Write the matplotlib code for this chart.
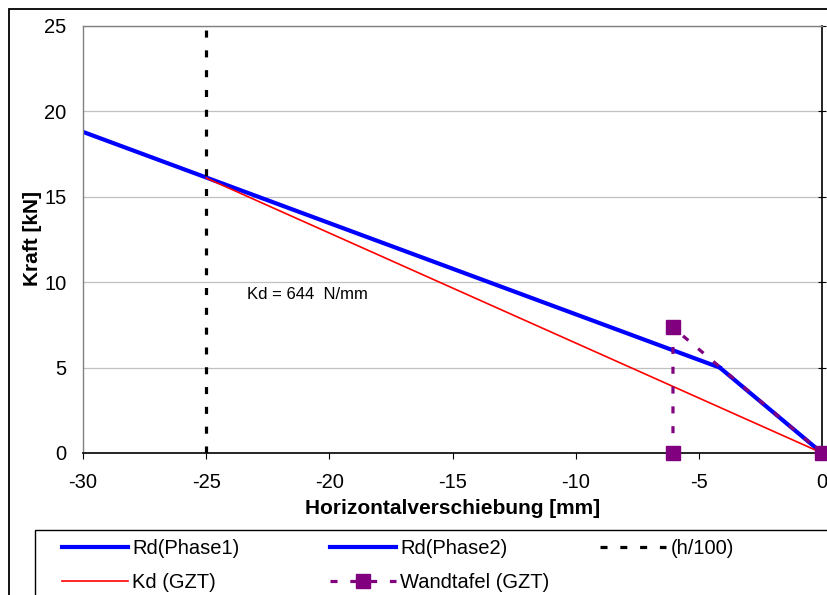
import numpy as np
from matplotlib import pyplot as plt
from matplotlib.patches import Rectangle

# data
phase1_x = [0.0, -4.15]
phase1_y = [0.0, 5.0]
phase2_x = [-4.15, -30.0]
phase2_y = [5.0, 18.8]
kd_x = [0.0, -25.0]
kd_y = [0.0, 16.1]
h100_x = [-25.0, -25.0]
h100_y = [0.0, 25.0]
wand_x = [-6.05, -6.05, 0.0]
wand_y = [0.0, 7.35, 0.0]

x_ticks = [-30, -25, -20, -15, -10, -5, 0]
y_ticks = [0, 5, 10, 15, 20, 25]

plt.rcParams["font.family"] = ["Liberation Sans", "DejaVu Sans"]
plt.rcParams["axes.unicode_minus"] = False

W, H = 827, 595
fig = plt.figure(figsize=(W / 100, H / 100), dpi=100, facecolor="w")
ax = fig.add_axes([83 / W, 1 - 453 / H, 739 / W, 427 / H])

ax.set_xlim(-30, 0)
ax.set_ylim(0, 25)

# horizontal grid
for yv in y_ticks[1:]:
    ax.axhline(yv, color="#c0c0c0", lw=0.9, zorder=0)

l_p1, = ax.plot(phase1_x, phase1_y, color="#0000ff", lw=3.0, zorder=2)
l_p2, = ax.plot(phase2_x, phase2_y, color="#0000ff", lw=3.0, zorder=2)
l_h, = ax.plot(h100_x, h100_y, color="black", lw=2.3, dashes=(2.2, 4.0), zorder=3)
l_kd, = ax.plot(kd_x, kd_y, color="#ff0000", lw=1.2, zorder=3)
l_wt, = ax.plot(wand_x, wand_y, color="#800080", lw=2.3, dashes=(2.2, 4.0),
                marker="s", markersize=10.5, clip_on=False, zorder=4)

ax.text(-23.35, 9.27, "Kd = 644  N/mm", fontsize=12, va="center", ha="left")

ax.set_xticks(x_ticks)
ax.set_xticklabels([str(t) for t in x_ticks])
ax.set_yticks(y_ticks)
ax.set_yticklabels([str(t) for t in y_ticks])
ax.tick_params(axis="x", direction="out", length=4.5, width=0.8, labelsize=14.5, pad=10)
ax.tick_params(axis="y", left=False, right=True, labelleft=True, labelright=False,
               direction="inout", length=6, width=0.8, labelsize=14.5, pad=9)

for side in ["left", "top"]:
    ax.spines[side].set_color("#808080")
    ax.spines[side].set_linewidth(1.0)
ax.spines["right"].set_color("black")
ax.spines["bottom"].set_color("black")
ax.spines["right"].set_linewidth(1.2)
ax.spines["bottom"].set_linewidth(1.2)

ax.set_xlabel("Horizontalverschiebung [mm]", fontsize=15, fontweight="bold", labelpad=5)
ax.set_ylabel("Kraft [kN]", fontsize=15, fontweight="bold")
ax.yaxis.set_label_coords(-0.055, 0.502)

# outer chart frame and legend frame, running off the image edge
fig.patches.append(Rectangle((9 / W, -0.1), 1.2, 1 - 9 / H + 0.1, transform=fig.transFigure,
                             fill=False, edgecolor="black", lw=1.3))
fig.patches.append(Rectangle((35 / W, -0.1), 1.2, 1 - 530 / H + 0.1, transform=fig.transFigure,
                             fill=False, edgecolor="black", lw=1.0))

legend_cols = [
    (62, [l_p1, l_kd], ["Rd(Phase1)", "Kd (GZT)"]),
    (330, [l_p2, l_wt], ["Rd(Phase2)", "Wandtafel (GZT)"]),
    (600, [l_h], ["(h/100)"]),
]
for x0, handles, labels in legend_cols:
    leg = fig.legend(handles, labels, loc="upper left",
                     bbox_to_anchor=(x0 / W, 1 - 539 / H), frameon=False,
                     fontsize=14.5, handlelength=3.3, handletextpad=0.2,
                     labelspacing=0.75, borderpad=0, borderaxespad=0)

fig.savefig("out.png", dpi=100)
